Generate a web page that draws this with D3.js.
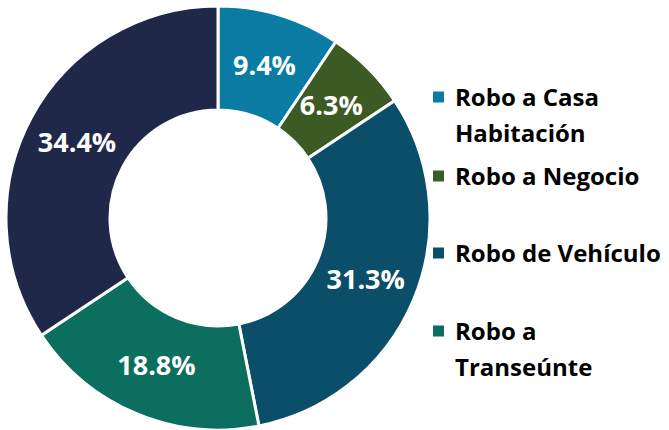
<!DOCTYPE html>
<html>
<head>
<meta charset="utf-8">
<script src="https://cdn.jsdelivr.net/npm/d3@7"></script>
<style>
  body { margin: 0; background: #fff; }
  svg text { font-family: "Open Sans", "Liberation Sans", sans-serif; font-weight: bold; }
</style>
</head>
<body>
<svg id="chart" width="669" height="430"></svg>
<script>
// slice data (clockwise from 12 o'clock)
const categories = ['Robo a Casa Habitación', 'Robo a Negocio', 'Robo de Vehículo', 'Robo a Transeúnte', 'Otros']
const percents = [9.4, 6.3, 31.3, 18.8, 34.4]
const colors = ['#0A7CA3', '#3C5A24', '#0A4E6A', '#0B6E5E', '#1F2849']
// legend only shows the first four, split on lines like the original
const legendLines = [['Robo a Casa', 'Habitación'], ['Robo a Negocio'], ['Robo de Vehículo'], ['Robo a', 'Transeúnte']]
const legendY = [97, 176, 253, 331]

const svg = d3.select('#chart')
const cx = 218, cy = 218
const outerR = 212, innerR = 108

let pie = d3.pie().sort(null).value(d => d)
let arc = d3.arc().innerRadius(innerR).outerRadius(outerR)

let g = svg.append('g').attr('transform', `translate(${cx},${cy})`)

let arcs = pie(percents)

g.selectAll('path')
  .data(arcs)
  .enter()
  .append('path')
  .attr('d', arc)
  .attr('fill', (d, i) => colors[i])
  .attr('stroke', '#fff')
  .attr('stroke-width', 3)
  .attr('stroke-linejoin', 'round')

g.selectAll('text.lbl')
  .data(arcs)
  .enter()
  .append('text')
  .attr('class', 'lbl')
  .attr('x', d => arc.centroid(d)[0])
  .attr('y', d => arc.centroid(d)[1])
  .attr('dy', '0.36em')
  .attr('text-anchor', 'middle')
  .attr('fill', '#fff')
  .attr('font-size', 27)
  .text(d => d.data.toFixed(1) + '%')

// legend
let legend = svg.append('g')
legendLines.forEach((lines, i) => {
  legend.append('rect')
    .attr('x', 433)
    .attr('y', legendY[i] - 5.5)
    .attr('width', 11)
    .attr('height', 11)
    .attr('fill', colors[i])
  let t = legend.append('text')
    .attr('x', 455)
    .attr('y', legendY[i])
    .attr('font-size', 24)
    .attr('fill', '#000')
  lines.forEach((line, j) => {
    t.append('tspan')
      .attr('x', 455)
      .attr('dy', j == 0 ? '0.36em' : 36)
      .text(line)
  })
})
</script>
</body>
</html>
